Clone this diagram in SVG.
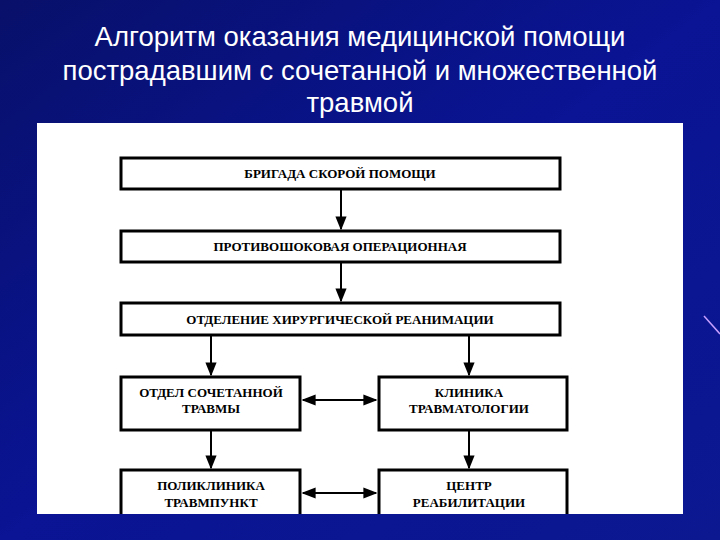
<svg xmlns="http://www.w3.org/2000/svg" width="720" height="540" viewBox="0 0 720 540">
<defs>
<linearGradient id="bg" x1="0" y1="0" x2="1" y2="1"><stop offset="0" stop-color="#08106a"/><stop offset="0.5" stop-color="#0a1494"/><stop offset="1" stop-color="#0b1890"/></linearGradient>
<marker id="a" viewBox="0 0 10 10" refX="9" refY="5" markerWidth="7" markerHeight="7" orient="auto-start-reverse"><path d="M0,1 L10,5 L0,9 z" fill="#000"/></marker>
<clipPath id="c"><rect x="37" y="123" width="646" height="391"/></clipPath>
</defs>
<style>
.t{font-family:"Liberation Sans",Arial,sans-serif;font-size:27.5px;fill:#fff;text-anchor:middle}
.b{fill:#fff;stroke:#000;stroke-width:3}
.l{font-family:"Liberation Serif","Times New Roman",serif;font-size:13px;font-weight:bold;fill:#000;text-anchor:middle}
.c{stroke:#000;stroke-width:2;fill:none;marker-end:url(#a)}
.d{stroke:#000;stroke-width:2;fill:none;marker-end:url(#a);marker-start:url(#a)}
</style>
<rect width="720" height="540" fill="url(#bg)"/>
<line x1="704" y1="316" x2="720" y2="334" stroke="#c8a0ff" stroke-width="1.5"/>
<text class="t" x="360" y="46">Алгоритм оказания медицинской помощи</text>
<text class="t" x="360" y="80">пострадавшим с сочетанной и множественной</text>
<text class="t" x="360" y="112">травмой</text>
<rect x="37" y="123" width="646" height="391" fill="#fff"/>
<g clip-path="url(#c)">
<g id="n1"><rect class="b" x="121" y="158" width="439" height="31"/><text class="l" x="340" y="178">БРИГАДА СКОРОЙ ПОМОЩИ</text></g>
<g id="n2"><rect class="b" x="121" y="231" width="439" height="31"/><text class="l" x="340" y="251">ПРОТИВОШОКОВАЯ ОПЕРАЦИОННАЯ</text></g>
<g id="n3"><rect class="b" x="121" y="303" width="439" height="32"/><text class="l" x="340" y="324">ОТДЕЛЕНИЕ ХИРУРГИЧЕСКОЙ РЕАНИМАЦИИ</text></g>
<g id="n4"><rect class="b" x="121" y="377" width="179" height="53"/><text class="l" x="211" y="397">ОТДЕЛ СОЧЕТАННОЙ</text><text class="l" x="211" y="413">ТРАВМЫ</text></g>
<g id="n5"><rect class="b" x="379" y="377" width="188" height="53"/><text class="l" x="469" y="397">КЛИНИКА</text><text class="l" x="469" y="413">ТРАВМАТОЛОГИИ</text></g>
<g id="n6"><rect class="b" x="121" y="470" width="179" height="60"/><text class="l" x="211" y="490">ПОЛИКЛИНИКА</text><text class="l" x="211" y="507">ТРАВМПУНКТ</text></g>
<g id="n7"><rect class="b" x="379" y="470" width="188" height="60"/><text class="l" x="469" y="490">ЦЕНТР</text><text class="l" x="469" y="507">РЕАБИЛИТАЦИИ</text></g>
<g id="edges">
<line class="c" x1="341" y1="190" x2="341" y2="229"/>
<line class="c" x1="341" y1="263" x2="341" y2="301"/>
<line class="c" x1="211" y1="336" x2="211" y2="375"/>
<line class="c" x1="469" y1="336" x2="469" y2="375"/>
<line class="c" x1="211" y1="431" x2="211" y2="468"/>
<line class="c" x1="469" y1="431" x2="469" y2="468"/>
<line class="d" x1="303" y1="400" x2="376" y2="400"/>
<line class="d" x1="303" y1="493" x2="376" y2="493"/>
</g>
</g>
</svg>
